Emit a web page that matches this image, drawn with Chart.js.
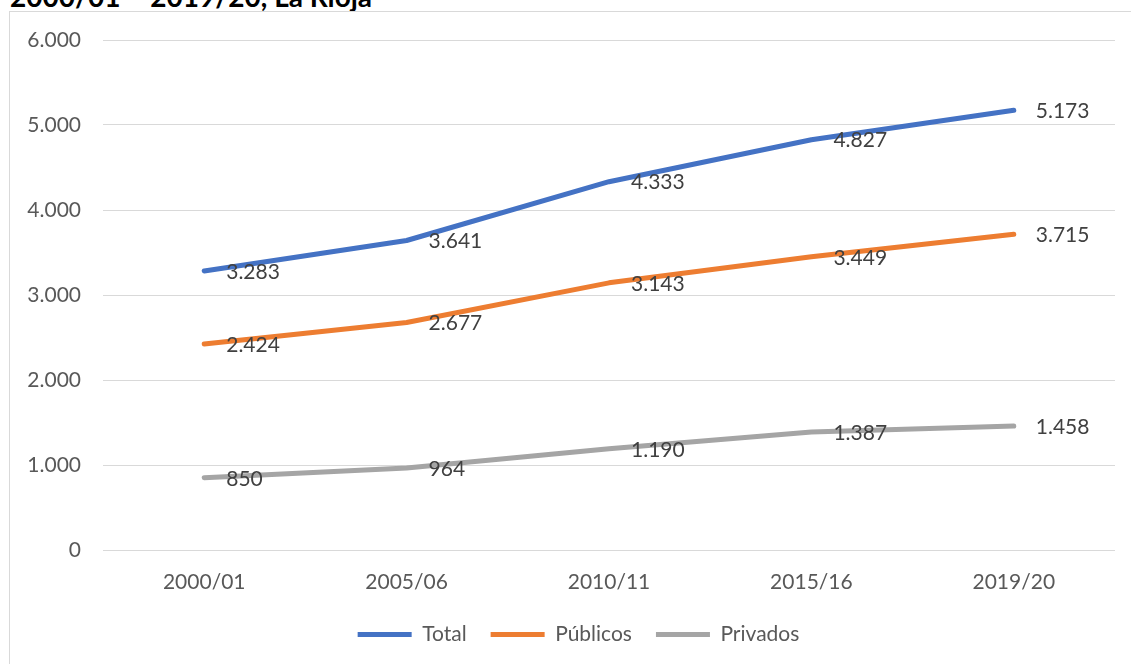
<!DOCTYPE html>
<html>
<head>
<meta charset="utf-8">
<script src="https://cdn.jsdelivr.net/npm/chart.js@4.4.1/dist/chart.umd.min.js"></script>
<style>
  html, body { margin:0; padding:0; background:#fff; width:1131px; height:664px; overflow:hidden; }
  #title { position:absolute; left:10px; top:-18px; font-family:Lato, sans-serif; font-weight:bold; font-size:28px; line-height:28px; color:#000; white-space:nowrap; }
  #frame { position:absolute; left:9px; top:11px; width:1300px; height:800px; border:1px solid #d9d9d9; box-sizing:border-box; }
  #c { position:absolute; left:0; top:0; }
</style>
</head>
<body>
<div id="title">2000/01 – 2019/20, La Rioja</div>
<div id="frame"></div>
<canvas id="c" width="1131" height="664"></canvas>
<script>
const categories = ['2000/01', '2005/06', '2010/11', '2015/16', '2019/20'];
const totalValues = [3283, 3641, 4333, 4827, 5173];
const publicValues = [2424, 2677, 3143, 3449, 3715];
const privateValues = [850, 964, 1190, 1387, 1458];
const seriesNames = ['Total', 'Públicos', 'Privados'];
const seriesColors = ['#4472C4', '#ED7D31', '#A5A5A5'];
const yTicks = [0, 1000, 2000, 3000, 4000, 5000, 6000];

function fmt(v) {
  return String(Math.round(v)).replace(/\B(?=(\d{3})+(?!\d))/g, '.');
}

const FONT = 'Lato, "Noto Sans", sans-serif';

const labelPlugin = {
  id: 'pointLabels',
  afterLayout(chart) {
    if (chart.legend) {
      chart.legend.left += 21;
      chart.legend.right += 21;
    }
  },
  afterDatasetsDraw(chart) {
    const ctx = chart.ctx;
    ctx.save();
    ctx.font = '21px ' + FONT;
    ctx.fillStyle = '#404040';
    ctx.textAlign = 'left';
    ctx.textBaseline = 'middle';
    chart.data.datasets.forEach((ds, i) => {
      const meta = chart.getDatasetMeta(i);
      meta.data.forEach((pt, j) => {
        ctx.fillText(fmt(ds.data[j]), pt.x + 22, pt.y + 1);
      });
    });
    ctx.restore();
  }
};

const allValues = [totalValues, publicValues, privateValues];

new Chart(document.getElementById('c'), {
  type: 'line',
  data: {
    labels: categories,
    datasets: allValues.map((vals, i) => ({
      label: seriesNames[i],
      data: vals,
      borderColor: seriesColors[i],
      backgroundColor: seriesColors[i],
      borderWidth: 5,
      borderCapStyle: 'round',
      borderJoinStyle: 'round',
      pointRadius: 0,
      pointHoverRadius: 0,
      pointStyle: 'line',
      tension: 0,
      fill: false
    }))
  },
  options: {
    responsive: false,
    animation: false,
    devicePixelRatio: 1,
    layout: { padding: { left: 0, right: 16, top: 40, bottom: 9 } },
    plugins: {
      title: { display: false },
      tooltip: { enabled: false },
      legend: {
        position: 'bottom',
        labels: {
          usePointStyle: true,
          pointStyleWidth: 54,
          boxHeight: 21,
          padding: 24,
          color: '#595959',
          font: { family: FONT, size: 21 }
        }
      }
    },
    scales: {
      x: {
        offset: true,
        grid: { display: false, drawTicks: false },
        border: { display: false },
        ticks: { color: '#595959', font: { family: FONT, size: 21 }, padding: 20, maxRotation: 0 },
        afterFit(s) { s.height = 50; }
      },
      y: {
        min: 0,
        max: 6000,
        afterBuildTicks(s) { s.ticks = yTicks.map(v => ({ value: v })); },
        grid: { color: '#D9D9D9', lineWidth: 1, drawTicks: false },
        border: { display: false },
        ticks: { color: '#595959', font: { family: FONT, size: 21 }, padding: 22, callback: v => fmt(v) },
        afterFit(s) { s.width = 103; }
      }
    }
  },
  plugins: [labelPlugin]
});
</script>
</body>
</html>
